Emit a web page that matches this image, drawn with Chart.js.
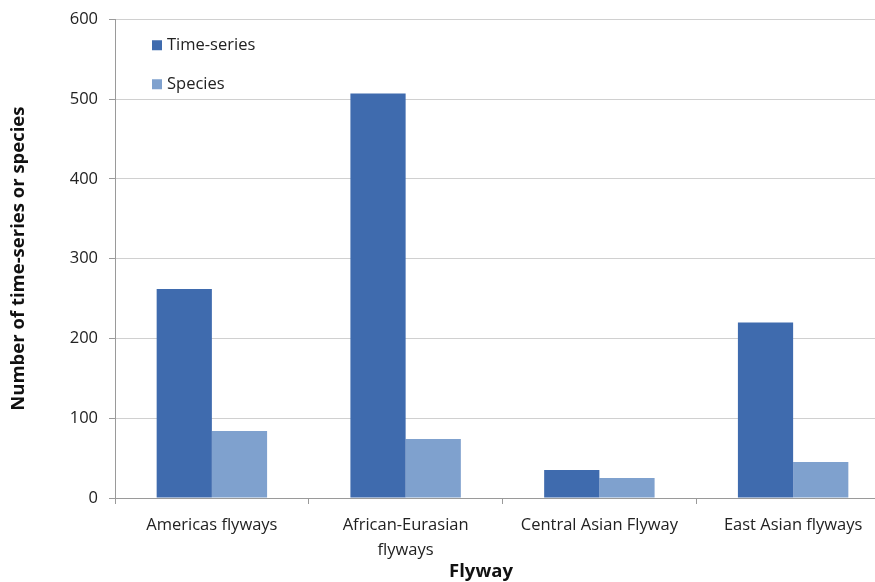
<!DOCTYPE html>
<html>
<head>
<meta charset="utf-8">
<script src="https://cdn.jsdelivr.net/npm/chart.js@4"></script>
<style>
  html, body { margin: 0; padding: 0; background: #fff; overflow: hidden; }
  #wrap { width: 890px; height: 582px; }
</style>
</head>
<body>
<div id="wrap"><canvas id="chart" width="890" height="582"></canvas></div>
<script>
const flyways = [["Americas flyways"], ["African-Eurasian", "flyways"], ["Central Asian Flyway"], ["East Asian flyways"]];
const timeSeries = [262, 507, 35, 220];
const species = [84, 74, 25, 45];
const yTicks = [0, 100, 200, 300, 400, 500, 600];
const xTitle = "Flyway";

const FONT = "'Open Sans', sans-serif";

// legend inside the plot (top left) and the x title, which sits a bit left of centre
const extras = {
  id: "extras",
  afterDraw(chart) {
    const ctx = chart.ctx;
    const x = chart.chartArea.left + 37;
    let y = chart.chartArea.top + 26;
    ctx.save();
    ctx.font = "16.5px " + FONT;
    ctx.textBaseline = "middle";
    chart.data.datasets.forEach(ds => {
      ctx.fillStyle = ds.backgroundColor;
      ctx.fillRect(x, y - 5, 10, 10);
      ctx.fillStyle = "#222";
      ctx.fillText(ds.label, x + 15, y);
      y += 39;
    });
    ctx.font = "bold 18.5px " + FONT;
    ctx.textAlign = "center";
    ctx.fillStyle = "#111";
    ctx.fillText(xTitle, 481, 572);
    ctx.restore();
  }
};

new Chart(document.getElementById("chart").getContext("2d"), {
  type: "bar",
  data: {
    labels: flyways,
    datasets: [
      { label: "Time-series", data: timeSeries, backgroundColor: "#3F6BAE" },
      { label: "Species", data: species, backgroundColor: "#7FA1CE" }
    ]
  },
  options: {
    responsive: false,
    animation: false,
    layout: { padding: { top: 0, right: 0, left: 0, bottom: 0 } },
    plugins: { legend: { display: false }, tooltip: { enabled: false } },
    datasets: { bar: { categoryPercentage: 0.57, barPercentage: 1 } },
    scales: {
      x: {
        grid: { offset: true, drawOnChartArea: false, tickLength: 6, color: "#9a9a9a" },
        border: { color: "#9a9a9a" },
        ticks: { color: "#222", font: { family: FONT, size: 16.5, lineHeight: 1.5 }, maxRotation: 0, padding: 9 },
        afterFit: s => { s.height = 84; }
      },
      y: {
        min: 0,
        max: 600,
        afterBuildTicks: s => { s.ticks = yTicks.map(v => ({ value: v })); },
        grid: { color: "#d0d0d0", tickColor: "#9a9a9a", tickLength: 6 },
        border: { color: "#9a9a9a" },
        ticks: { color: "#222", font: { family: FONT, size: 16.5, lineHeight: 1.0 }, padding: 11 },
        title: { display: true, text: "Number of time-series or species", color: "#111", font: { family: FONT, size: 18.5, weight: "bold" }, padding: { top: 8, bottom: 0 } },
        afterFit: s => { s.width = 115; }
      }
    }
  },
  plugins: [extras]
});
</script>
</body>
</html>
